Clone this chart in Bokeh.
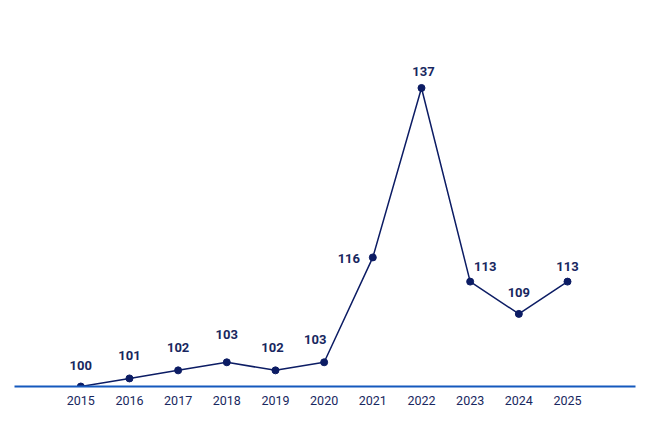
from bokeh.plotting import figure
from bokeh.models import ColumnDataSource, FixedTicker
from bokeh.core.properties import value
from bokeh.embed import file_html
from bokeh.resources import INLINE

years = [2015, 2016, 2017, 2018, 2019, 2020, 2021, 2022, 2023, 2024, 2025]
index_values = [100, 101, 102, 103, 102, 103, 116, 137, 113, 109, 113]
labels = [str(v) for v in index_values]

# label placement (screen px) relative to each point
label_dx = [0, 0, 0, 0, -3, -9, -24, 2, 15, 0, 0]
label_dy = [-21, -23, -23, -28, -23, -23, 1, -16, -15, -21, -15]

LINE = "#0c1c64"
AXIS = "#1559bd"
TEXT = "#182760"

src = ColumnDataSource(dict(x=years, y=index_values, t=labels, dx=label_dx, dy=label_dy))

p = figure(width=649, height=435, output_backend="svg", toolbar_location=None,
           x_range=(2013.638, 2026.397), y_range=(100, 146.85),
           y_axis_location=None, min_border_left=14, min_border_right=14,
           min_border_top=8, min_border_bottom=49)
p.outline_line_color = None
p.xgrid.visible = False
p.ygrid.visible = False
p.background_fill_color = "white"
p.border_fill_color = "white"

p.line("x", "y", source=src, line_color=LINE, line_width=1.5)
p.scatter("x", "y", source=src, size=7, fill_color=LINE, line_color=LINE)
p.text("x", "y", text="t", source=src, x_offset="dx", y_offset="dy",
       text_align="center", text_baseline="middle", text_color=TEXT,
       text_font=value("Roboto"), text_font_style="bold", text_font_size="13px")

ax = p.xaxis[0]
ax.ticker = FixedTicker(ticks=years)
ax.axis_line_color = AXIS
ax.axis_line_width = 2
ax.major_tick_line_color = None
ax.minor_tick_line_color = None
ax.major_label_standoff = 3
ax.major_label_text_font = "Roboto"
ax.major_label_text_font_size = "12.5px"
ax.major_label_text_color = TEXT

open("out.html", "w").write(file_html(p, INLINE))
